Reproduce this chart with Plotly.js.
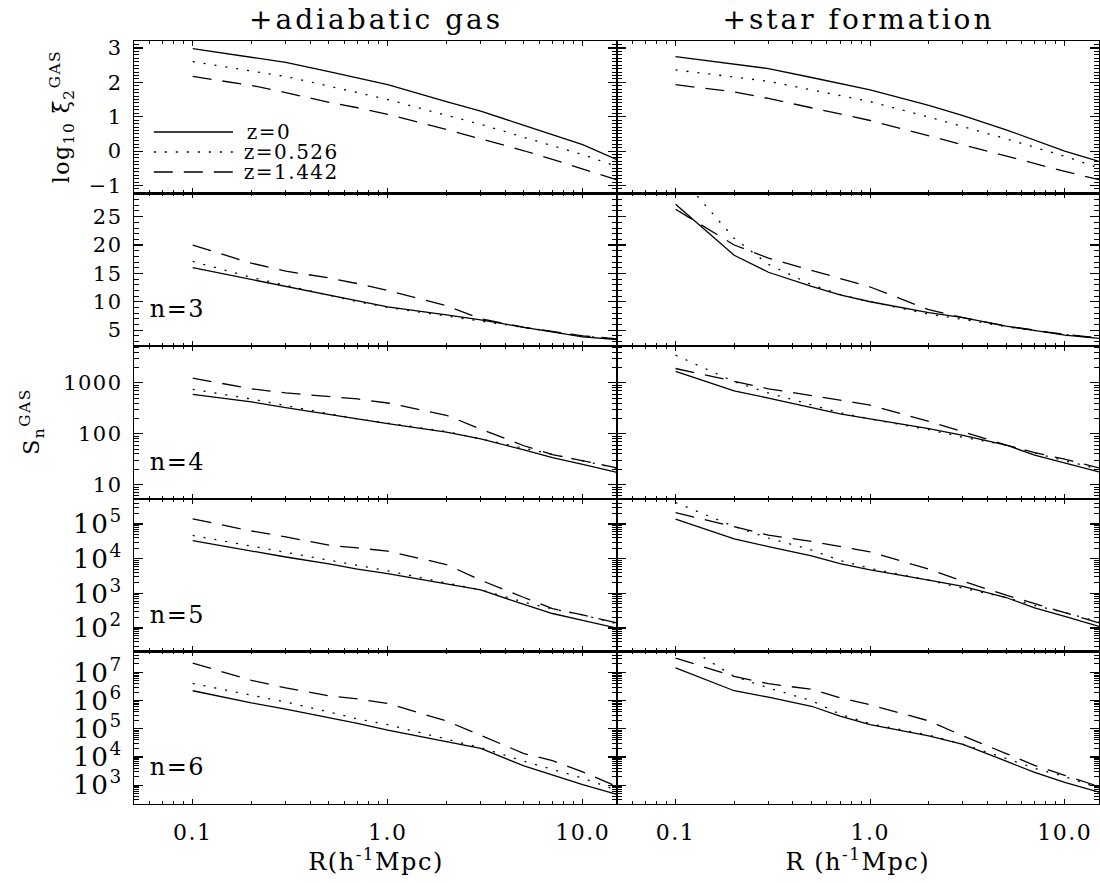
<!DOCTYPE html>
<html>
<head>
<meta charset="utf-8">
<script src="https://cdn.plot.ly/plotly-3.0.1.min.js"></script>
<style>
html,body{margin:0;padding:0;background:#fff;}
#chart text{letter-spacing:1.5px;}
#chart g.annotation[data-index="0"] text,#chart g.annotation[data-index="1"] text{letter-spacing:3px;}
</style>
</head>
<body>
<div id="chart" style="width:1100px;height:883px;"></div>
<script>
// Radius R (h^-1 Mpc)
const R = [0.1,0.2,0.3,0.5,0.7,1,2,3,5,7,10,15];
const seriesNames = ['z=0','z=0.526','z=1.442'];
const columnTitles = ['+adiabatic gas','+star formation'];
const rowLabels = ['','n=3','n=4','n=5','n=6'];
const xTitles = ['R(h<sup>-1</sup>Mpc)','R (h<sup>-1</sup>Mpc)'];

// row 1: log10 xi2 (GAS)
const xi2_adi_z0  = [2.98,2.74,2.58,2.31,2.13,1.93,1.44,1.16,0.75,0.48,0.19,-0.25];
const xi2_adi_z05 = [2.60,2.33,2.17,1.89,1.70,1.50,1.04,0.78,0.40,0.15,-0.10,-0.45];
const xi2_adi_z14 = [2.17,1.91,1.70,1.42,1.26,1.07,0.63,0.36,0.01,-0.24,-0.52,-0.84];
const xi2_sf_z0   = [2.75,2.53,2.40,2.14,1.97,1.78,1.33,1.03,0.62,0.32,0.00,-0.30];
const xi2_sf_z05  = [2.36,2.15,2.03,1.78,1.61,1.44,0.99,0.72,0.36,0.11,-0.15,-0.49];
const xi2_sf_z14  = [1.93,1.72,1.53,1.27,1.08,0.89,0.44,0.17,-0.15,-0.36,-0.59,-0.83];

// S3
const S3_adi_z0  = [16.0,13.9,12.7,11.2,10.1,9.1,7.7,6.8,5.5,4.65,3.8,3.35];
const S3_adi_z05 = [17.1,14.3,12.9,11.2,10.0,9.0,7.5,6.6,5.5,4.7,3.95,3.45];
const S3_adi_z14 = [20.0,16.8,15.4,14.2,13.2,12.0,9.3,7.0,5.5,4.75,4.0,3.45];
const S3_sf_z0   = [27.2,18.2,15.2,12.7,11.2,10.0,8.1,7.2,5.7,4.9,4.1,3.55];
const S3_sf_z05  = [33.0,21.2,16.6,13.0,11.3,10.0,7.8,6.9,5.6,4.9,4.2,3.6];
const S3_sf_z14  = [26.3,20.0,17.7,15.5,14.1,12.6,8.6,7.2,5.7,5.0,4.25,3.6];

// S4
const S4_adi_z0  = [590,420,325,240,190,158,107,79,48,34,25,17.4];
const S4_adi_z05 = [740,480,355,250,195,162,110,79,52,40,29.5,21];
const S4_adi_z14 = [1230,760,630,540,480,400,230,123,58,39,29.5,21.4];
const S4_sf_z0   = [1660,690,500,330,245,195,126,93,60,38,26.3,17.8];
const S4_sf_z05  = [3470,1050,630,363,257,195,120,85,60,41.7,29.5,20];
const S4_sf_z14  = [1900,1050,760,560,450,363,174,107,60,42.7,31.6,21.4];

// S5
const S5_adi_z0  = [33000,16200,11200,7100,5000,3700,1900,1260,480,263,166,100];
const S5_adi_z05 = [46800,22900,15100,8900,6300,4470,2000,1260,560,355,240,132];
const S5_adi_z14 = [141000,63000,42700,24500,20400,16600,6800,2400,760,363,240,141];
const S5_sf_z0   = [138000,37200,22400,12000,7240,4790,2400,1585,760,380,219,112];
const S5_sf_z05  = [417000,85000,39800,17800,8900,5250,2400,1410,760,447,282,151];
const S5_sf_z14  = [214000,81000,47900,31600,22400,15800,5000,2240,890,500,282,141];

// S6
const S6_adi_z0  = [2.24e6,8.3e5,5.0e5,2.5e5,1.55e5,8.9e4,3.55e4,2.0e4,4790,2240,1050,468];
const S6_adi_z05 = [4.07e6,1.58e6,8.9e5,3.98e5,2.24e5,1.41e5,4.17e4,2.14e4,7080,3550,1780,661];
const S6_adi_z14 = [2.14e7,5.25e6,2.82e6,1.48e6,1.15e6,7.9e5,1.9e5,5.9e4,1.32e4,7400,2950,890];
const S6_sf_z0   = [1.45e7,2.24e6,1.32e6,6.3e5,2.82e5,1.41e5,5.6e4,2.82e4,7080,2820,1260,562];
const S6_sf_z05  = [1.41e8,7.2e6,2.82e6,1.0e6,3.3e5,1.51e5,6.0e4,2.82e4,8900,3980,2000,794];
const S6_sf_z14  = [3.24e7,7.2e6,3.98e6,2.51e6,1.26e6,7.1e5,1.91e5,5.6e4,1.32e4,5010,2240,891];

const panelData = [
  [[xi2_adi_z0,xi2_adi_z05,xi2_adi_z14],[xi2_sf_z0,xi2_sf_z05,xi2_sf_z14]],
  [[S3_adi_z0,S3_adi_z05,S3_adi_z14],[S3_sf_z0,S3_sf_z05,S3_sf_z14]],
  [[S4_adi_z0,S4_adi_z05,S4_adi_z14],[S4_sf_z0,S4_sf_z05,S4_sf_z14]],
  [[S5_adi_z0,S5_adi_z05,S5_adi_z14],[S5_sf_z0,S5_sf_z05,S5_sf_z14]],
  [[S6_adi_z0,S6_adi_z05,S6_adi_z14],[S6_sf_z0,S6_sf_z05,S6_sf_z14]]
];

const W = 1100, H = 883;
const FONT = 'DejaVu Serif, Liberation Serif, serif';
const dashes = ['solid','2px,9px','19px,11px'];
const colX = [[134,617],[617,1099]];
const rowY = [40.7,193.4,346,498.7,651.3,804];
const yCfg = [
  {type:'linear', range:[-1.23,3.21], dtick:1, minor:{dtick:0.1}},
  {type:'linear', range:[2.2,29.1], dtick:5, tick0:0, minor:{dtick:1}},
  {type:'log', range:[0.725,3.72], dtick:1, exponentformat:'none', minor:{dtick:'D1'}},
  {type:'log', range:[1.33,5.73], dtick:1, exponentformat:'power', minor:{dtick:'D1'}},
  {type:'log', range:[2.33,7.75], dtick:1, exponentformat:'power', minor:{dtick:'D1'}}
];

const traces = [];
const layout = {
  width:W, height:H, margin:{l:0,r:0,t:0,b:0},
  paper_bgcolor:'#fff', plot_bgcolor:'#fff', showlegend:false,
  font:{family:FONT, color:'#000', size:22},
  annotations:[], shapes:[]
};

for (let r=0;r<5;r++){
  for (let c=0;c<2;c++){
    const k = r*2+c+1;
    const xs = k===1?'x':'x'+k, ys = k===1?'y':'y'+k;
    const xa = k===1?'xaxis':'xaxis'+k, ya = k===1?'yaxis':'yaxis'+k;
    panelData[r][c].forEach((vals,i)=>{
      traces.push({x:R, y:vals, xaxis:xs, yaxis:ys, type:'scatter', mode:'lines',
        name:seriesNames[i], line:{color:'#000', width:1.3, dash:dashes[i]},
        hoverinfo:'skip'});
    });
    layout[xa] = {
      type:'log', range:[Math.log10(0.05), Math.log10(15)],
      domain:[colX[c][0]/W, colX[c][1]/W], anchor:ys,
      dtick:1, tick0:0, tickformat:'.1f',
      ticks:'inside', ticklen:5, tickwidth:1.2, tickcolor:'#000',
      minor:{ticks:'inside', ticklen:3, tickwidth:1, tickcolor:'#000', dtick:'D1', showgrid:false},
      showline:true, linecolor:'#000', linewidth:1.2, mirror:'allticks',
      showgrid:false, zeroline:false,
      showticklabels:(r===4), tickfont:{family:FONT,size:22,color:'#000'},
      ticklabelstandoff:8, fixedrange:true
    };
    const cfg = yCfg[r];
    layout[ya] = Object.assign({}, cfg, {
      domain:[1-rowY[r+1]/H, 1-rowY[r]/H], anchor:xs,
      ticks:'inside', ticklen:9, tickwidth:1.2, tickcolor:'#000',
      minor:Object.assign({ticks:'inside', ticklen:5, tickwidth:1, tickcolor:'#000', showgrid:false}, cfg.minor),
      showline:true, linecolor:'#000', linewidth:1.2, mirror:'allticks',
      showgrid:false, zeroline:false,
      showticklabels:(c===0), tickfont:{family:FONT,size:21,color:'#000'},
      ticklabelstandoff:6, fixedrange:true
    });
    if (rowLabels[r] && c===0) {
      layout.annotations.push({xref:xs+' domain', yref:ys+' domain', x:0.033, y:0.24,
        xanchor:'left', yanchor:'middle', text:rowLabels[r], showarrow:false,
        font:{family:FONT,size:24,color:'#000'}});
    }
  }
}

// column titles (indices 0,1)
layout.annotations.unshift(
  {xref:'paper', yref:'paper', x:(colX[0][0]+colX[0][1])/2/W, y:1-20/H, xanchor:'center', yanchor:'middle',
   text:columnTitles[0], showarrow:false, font:{family:FONT,size:28,color:'#000'}},
  {xref:'paper', yref:'paper', x:(colX[1][0]+colX[1][1])/2/W, y:1-20/H, xanchor:'center', yanchor:'middle',
   text:columnTitles[1], showarrow:false, font:{family:FONT,size:28,color:'#000'}}
);
// x titles
xTitles.forEach((t,c)=>layout.annotations.push({xref:'paper', yref:'paper',
  x:(colX[c][0]+colX[c][1])/2/W, y:1-860/H, xanchor:'center', yanchor:'middle',
  text:t, showarrow:false, font:{family:FONT,size:24,color:'#000'}}));
// y titles
layout.annotations.push({xref:'paper', yref:'paper', x:62/W, y:1-117/H, xanchor:'center', yanchor:'middle',
  textangle:-90, text:'log<sub>10</sub> ξ̅<sub>2</sub><sup>GAS</sup>', showarrow:false,
  font:{family:FONT,size:22,color:'#000'}});
layout.annotations.push({xref:'paper', yref:'paper', x:32/W, y:1-422/H, xanchor:'center', yanchor:'middle',
  textangle:-90, text:'S<sub>n</sub><sup>GAS</sup>', showarrow:false,
  font:{family:FONT,size:22,color:'#000'}});

// legend drawn inside the top-left panel
const legY = [0.402,0.271,0.140];
seriesNames.forEach((nm,i)=>{
  layout.shapes.push({type:'line', xref:'x domain', yref:'y domain', x0:0.041, x1:0.205, y0:legY[i], y1:legY[i],
    line:{color:'#000', width:1.3, dash:dashes[i]}});
  layout.annotations.push({xref:'x domain', yref:'y domain', x:0.234, y:legY[i], xanchor:'left', yanchor:'middle',
    text:nm, showarrow:false, font:{family:FONT,size:20,color:'#000'}});
});

Plotly.newPlot('chart', traces, layout, {staticPlot:true, displayModeBar:false});
</script>
</body>
</html>
